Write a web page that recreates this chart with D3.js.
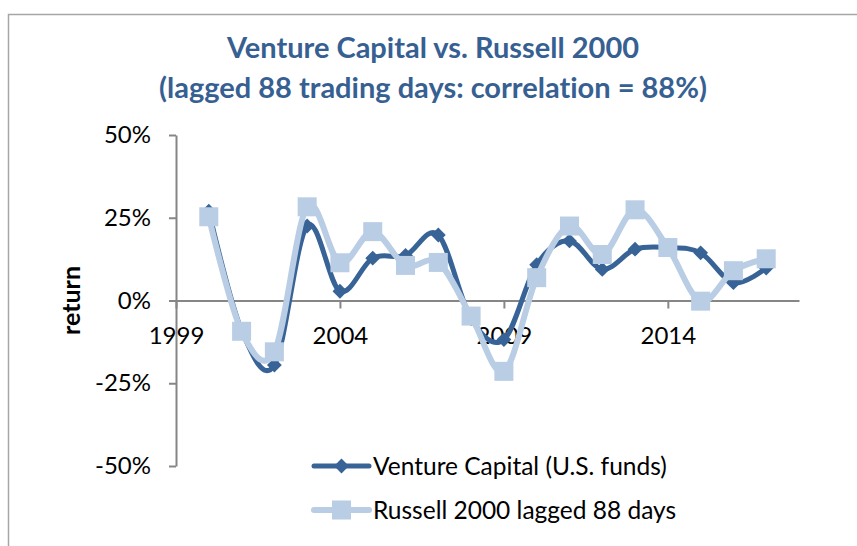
<!DOCTYPE html>
<html>
<head>
<meta charset="utf-8">
<script src="https://cdn.jsdelivr.net/npm/d3@7"></script>
<style>
  body { margin: 0; background: #fff; }
  svg text { font-family: Lato, "Open Sans", sans-serif; font-variant-ligatures: none; }
</style>
</head>
<body>
<div id="chart"></div>
<script>
/**
 * chart data
 */
const years = [2000, 2001, 2002, 2003, 2004, 2005, 2006, 2007, 2008,
               2009, 2010, 2011, 2012, 2013, 2014, 2015, 2016, 2017];
const ventureCapital = [0.27, -0.09, -0.195, 0.225, 0.028, 0.128, 0.136, 0.198, -0.055,
                        -0.118, 0.108, 0.18, 0.094, 0.155, 0.16, 0.144, 0.054, 0.098];
const russell2000 = [0.253, -0.093, -0.155, 0.283, 0.114, 0.208, 0.106, 0.115, -0.047,
                     -0.214, 0.069, 0.225, 0.139, 0.274, 0.16, -0.002, 0.09, 0.126];
const xTicks = [1999, 2004, 2009, 2014];
const yTicks = [-0.5, -0.25, 0, 0.25, 0.5];
const titleLines = ["Venture Capital vs. Russell 2000",
                    "(lagged 88 trading days: correlation = 88%)"];
const seriesNames = ["Venture Capital (U.S. funds)", "Russell 2000 lagged 88 days"];

/**
 * constants
 */
const WIDTH = 857;
const HEIGHT = 546;
const DARK = "#386396";
const LIGHT = "#B9CDE5";
const AXIS = "#868686";

const svg = d3.select("#chart").append("svg")
    .attr("width", WIDTH)
    .attr("height", HEIGHT);

// chart border (runs off the right and bottom)
svg.append("rect")
    .attr("x", 8.5)
    .attr("y", 14.5)
    .attr("width", 880)
    .attr("height", 600)
    .attr("fill", "none")
    .attr("stroke", "#a6a6a6")
    .attr("stroke-width", 1.5);

svg.selectAll(".title")
    .data(titleLines)
    .enter()
    .append("text")
    .attr("class", "title")
    .attr("x", 433)
    .attr("y", (d, i) => 58 + i * 40)
    .attr("text-anchor", "middle")
    .attr("font-size", 29)
    .attr("font-weight", "bold")
    .attr("fill", "#376092")
    .text(d => d);

const x = d3.scaleLinear().domain([1999, 2018]).range([176, 799]);
const y = d3.scaleLinear().domain([-0.5, 0.5]).range([466, 135]);

// excel style percent, plain hyphen for negatives
const pct = d => Math.round(d * 100) + "%";

// y axis
const yAxis = svg.append("g")
    .attr("transform", `translate(${x(1999)},0)`)
    .call(d3.axisLeft(y)
        .tickValues(yTicks)
        .tickFormat(pct)
        .tickSize(7)
        .tickSizeOuter(0)
        .tickPadding(18));

// x axis sits on the zero line
const xAxis = svg.append("g")
    .attr("transform", `translate(0,${y(0)})`)
    .call(d3.axisBottom(x)
        .tickValues(xTicks)
        .tickFormat(d3.format("d"))
        .tickSize(8)
        .tickSizeOuter(0)
        .tickPadding(18));

[yAxis, xAxis].forEach(g => {
    g.select(".domain").attr("stroke", AXIS).attr("stroke-width", 2);
    g.selectAll(".tick line").attr("stroke", AXIS).attr("stroke-width", 2);
    g.selectAll(".tick text")
        .attr("font-size", 24)
        .attr("fill", "#000")
        .style("font-family", "Lato, sans-serif");
});

svg.append("text")
    .attr("transform", `translate(80,${y(0)}) rotate(-90)`)
    .attr("text-anchor", "middle")
    .attr("font-size", 25)
    .attr("font-weight", "bold")
    .text("return");

// smoothed lines like Excel
const line = d3.line()
    .x(d => x(d[0]))
    .y(d => y(d[1]))
    .curve(d3.curveCatmullRom.alpha(0));

// excel diamond: a square turned 45 degrees
const rhombus = {
    draw(ctx, size) {
        const r = Math.sqrt(size / 2);
        ctx.moveTo(0, -r);
        ctx.lineTo(r, 0);
        ctx.lineTo(0, r);
        ctx.lineTo(-r, 0);
        ctx.closePath();
    }
};
const diamond = d3.symbol().type(rhombus).size(110);
const square = d3.symbol().type(d3.symbolSquare).size(361);

const series = [
    { name: seriesNames[0], values: ventureCapital, color: DARK, width: 5, symbol: diamond },
    { name: seriesNames[1], values: russell2000, color: LIGHT, width: 6, symbol: square }
];

series.forEach(s => {
    const pts = years.map((yr, i) => [yr, s.values[i]]);

    svg.append("path")
        .datum(pts)
        .attr("d", line)
        .attr("fill", "none")
        .attr("stroke", s.color)
        .attr("stroke-width", s.width)
        .attr("stroke-linejoin", "round")
        .attr("stroke-linecap", "round");

    svg.selectAll(null)
        .data(pts)
        .enter()
        .append("path")
        .attr("d", s.symbol)
        .attr("transform", d => `translate(${x(d[0])},${y(d[1])})`)
        .attr("fill", s.color);
});

// legend
const legend = svg.selectAll(".legend")
    .data(series)
    .enter()
    .append("g")
    .attr("class", "legend")
    .attr("transform", (d, i) => `translate(314,${466 + i * 44})`);

legend.append("line")
    .attr("x1", 0)
    .attr("x2", 55)
    .attr("stroke", d => d.color)
    .attr("stroke-width", d => d.width)
    .attr("stroke-linecap", "round");

legend.append("path")
    .attr("d", d => d.symbol())
    .attr("transform", "translate(27.5,0)")
    .attr("fill", d => d.color);

legend.append("text")
    .attr("x", 59)
    .attr("dy", "0.35em")
    .attr("font-size", 24.5)
    .text(d => d.name);
</script>
</body>
</html>
